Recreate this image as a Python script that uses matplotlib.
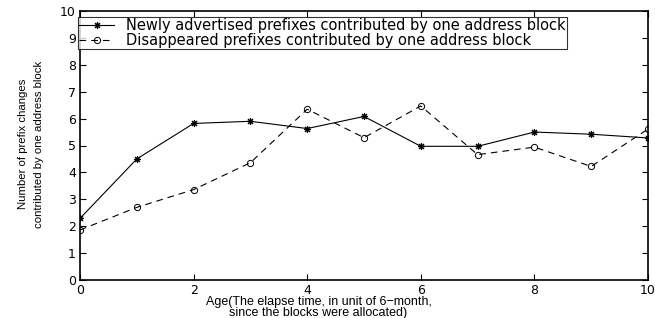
import matplotlib
matplotlib.use("Agg")
import matplotlib.pyplot as plt

# 数据
age = [0, 1, 2, 3, 4, 5, 6, 7, 8, 9, 10]
newly = [2.29, 4.5, 5.82, 5.9, 5.63, 6.08, 4.97, 4.97, 5.5, 5.42, 5.28]
disappeared = [1.86, 2.7, 3.36, 4.36, 6.35, 5.29, 6.47, 4.66, 4.94, 4.22, 5.61]

plt.rcParams['font.family'] = ['Liberation Sans', 'DejaVu Sans']

fig = plt.figure(figsize=(6.55, 3.18), dpi=100)
ax = fig.add_axes([80 / 655, 1 - 280 / 318, 568 / 655, 269 / 318])

ax.plot(age, newly, color='black', lw=0.8, marker=(8, 2, 0), ms=5, mew=0.8,
        label='Newly advertised prefixes contributed by one address block')
ax.plot(age, disappeared, color='black', lw=0.8, ls=(0, (6, 4.5)), marker='o', ms=4.5,
        mfc='none', mew=0.7,
        label='Disappeared prefixes contributed by one address block')

ax.set_xlim(0, 10)
ax.set_ylim(0, 10)
ax.set_xticks(range(0, 11, 2))
ax.set_yticks(range(0, 11))
ax.tick_params(direction='in', top=True, right=True, length=4, width=0.8, pad=3)
for lab in ax.get_xticklabels() + ax.get_yticklabels():
    lab.set_family('DejaVu Sans')
    lab.set_fontsize(9)
for s in ax.spines.values():
    s.set_linewidth(1.2)

ax.set_xlabel('Age(The elapse time, in unit of 6\u2212month,\nsince the blocks were allocated)',
              fontsize=9, linespacing=0.9)
ax.xaxis.set_label_coords(0.42, -0.06, transform=ax.transAxes)
ax.xaxis.label.set_va('top')

ax.set_ylabel('Number of prefix changes\ncontributed by one address block',
              fontsize=8.2, linespacing=1.8)
ax.yaxis.set_label_coords(-0.063, 0.505)

leg = ax.legend(loc='upper left', bbox_to_anchor=(-0.004, 0.978),
                prop={'family': 'DejaVu Sans', 'size': 10.5},
                frameon=True, fancybox=False, borderpad=0.1, labelspacing=-0.05,
                handlelength=2.4, handletextpad=0.8, borderaxespad=0)
leg.get_frame().set_edgecolor('black')
leg.get_frame().set_linewidth(0.8)

fig.savefig('out.png', dpi=100)
